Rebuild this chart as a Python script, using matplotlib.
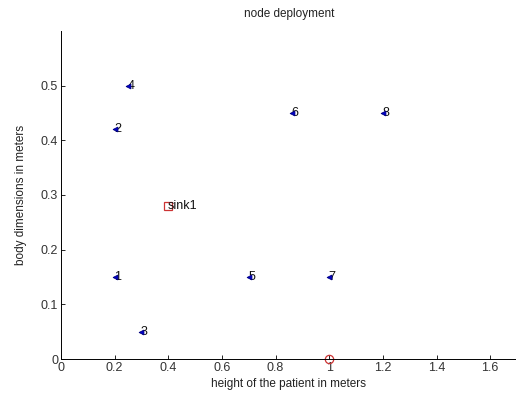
import matplotlib
matplotlib.use("Agg")
import matplotlib.pyplot as plt
import matplotlib.transforms as mtransforms

node_x = [0.2, 0.2, 0.3, 0.25, 0.7, 0.86, 1.0, 1.2]
node_y = [0.15, 0.42, 0.05, 0.5, 0.15, 0.45, 0.15, 0.45]
node_labels = ["1", "2", "3", "4", "5", "6", "7", "8"]
sink_x = [0.4]
sink_y = [0.28]
sink_labels = ["sink1"]
base_x = [1.0]
base_y = [0.0]
x_ticks = [0, 0.2, 0.4, 0.6, 0.8, 1, 1.2, 1.4, 1.6]
y_ticks = [0, 0.1, 0.2, 0.3, 0.4, 0.5]

plt.rcParams['font.family'] = ['Liberation Sans', 'DejaVu Sans']
fig = plt.figure(figsize=(5.16, 3.93), dpi=100)
ax = fig.add_axes([0.118, 0.0865, 0.884, 0.835])
shift = mtransforms.offset_copy(ax.transData, fig=fig, x=-0.3, y=0, units='points')

ax.plot(node_x, node_y, linestyle='none', marker='<', markersize=3.5,
        color='#0000cc', markeredgecolor='#000080', markeredgewidth=0.6,
        zorder=4)
for x, y, t in zip(node_x, node_y, node_labels):
    ax.text(x, y, t, fontsize=9, ha='left', va='center', color='#111111',
            transform=shift, zorder=3)
ax.plot(sink_x, sink_y, linestyle='none', marker='s', markersize=6,
        markerfacecolor='none', markeredgecolor='#cc3333', markeredgewidth=0.9)
for x, y, t in zip(sink_x, sink_y, sink_labels):
    ax.text(x, y, t, fontsize=9, ha='left', va='center', color='#111111',
            transform=shift)
ax.plot(base_x, base_y, linestyle='none', marker='o', markersize=6,
        markerfacecolor='none', markeredgecolor='#cc3333', markeredgewidth=0.9,
        clip_on=False)

ax.set_xlim(0, 1.7)
ax.set_ylim(0, 0.6)
ax.set_xticks(x_ticks)
ax.set_xticklabels(["0", "0.2", "0.4", "0.6", "0.8", "1", "1.2", "1.4", "1.6"])
ax.set_yticks(y_ticks)
ax.set_yticklabels(["0", "0.1", "0.2", "0.3", "0.4", "0.5"])
ax.tick_params(direction='in', length=3, labelsize=9, width=0.6,
               labelcolor='#333333', pad=2)
for s in ['top', 'right']:
    ax.spines[s].set_visible(False)
for s in ['left', 'bottom']:
    ax.spines[s].set_linewidth(0.7)
ax.set_title("node deployment", fontsize=8.5, pad=10, color='#222222')
ax.set_xlabel("height of the patient in meters", fontsize=8.5, labelpad=3,
              color='#222222')
ax.set_ylabel("body dimensions in meters", fontsize=8.5, labelpad=10,
              color='#222222')

fig.savefig("out.png", dpi=100)
